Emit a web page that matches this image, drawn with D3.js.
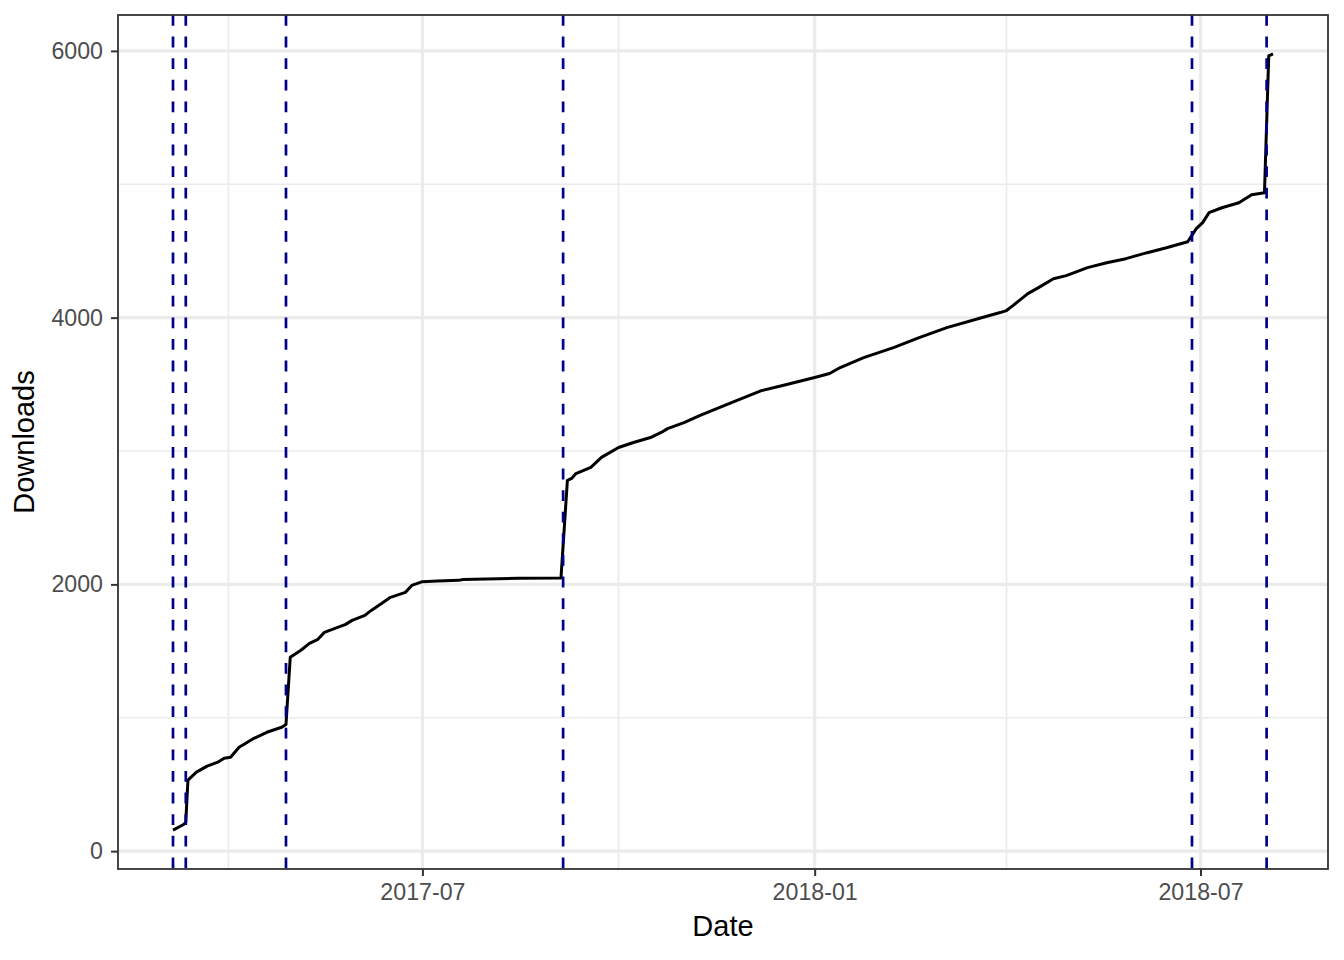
<!DOCTYPE html>
<html>
<head>
<meta charset="utf-8">
<script src="https://cdn.jsdelivr.net/npm/d3@7"></script>
<style>
  html, body { margin: 0; padding: 0; background: #fff; }
  svg { display: block; font-family: "Liberation Sans", Arial, Helvetica, sans-serif; }
</style>
</head>
<body>
<svg id="chart" width="1344" height="960"></svg>
<script>
// ---- data ----
const dates = [
  "2017-03-06","2017-03-11","2017-03-12","2017-03-13","2017-03-17","2017-03-22","2017-03-27","2017-03-30",
  "2017-04-02","2017-04-06","2017-04-13","2017-04-19","2017-04-26","2017-04-28","2017-04-30","2017-05-05",
  "2017-05-09","2017-05-13","2017-05-16","2017-05-21","2017-05-26","2017-05-29","2017-06-04","2017-06-07",
  "2017-06-12","2017-06-16","2017-06-23","2017-06-26","2017-07-01","2017-07-08","2017-07-18","2017-07-20",
  "2017-08-15","2017-09-04","2017-09-07","2017-09-09","2017-09-11","2017-09-18","2017-09-23","2017-10-01",
  "2017-10-08","2017-10-16","2017-10-21","2017-10-24","2017-11-01","2017-11-08","2017-11-23","2017-12-07",
  "2017-12-17","2018-01-01","2018-01-08","2018-01-13","2018-01-24","2018-02-07","2018-02-19","2018-03-04",
  "2018-03-19","2018-03-29","2018-04-01","2018-04-04","2018-04-11","2018-04-16","2018-04-23","2018-04-29",
  "2018-05-09","2018-05-18","2018-05-27","2018-06-06","2018-06-15","2018-06-25","2018-06-29","2018-07-02",
  "2018-07-05","2018-07-11","2018-07-19","2018-07-25","2018-07-31","2018-08-02","2018-08-04"
];
const downloads = [
  157, 200, 217, 532, 592, 637, 667, 697,
  704, 779, 846, 891, 929, 950, 1453, 1506,
  1558, 1588, 1640, 1670, 1700, 1730, 1768, 1805,
  1858, 1903, 1940, 1992, 2020, 2025, 2030, 2037,
  2045, 2048, 2779, 2794, 2831, 2877, 2952, 3026,
  3064, 3101, 3139, 3168, 3214, 3266, 3363, 3453,
  3491, 3551, 3581, 3626, 3700, 3775, 3850, 3925,
  3993, 4038, 4053, 4090, 4180, 4225, 4292, 4315,
  4375, 4412, 4442, 4487, 4524, 4569, 4667, 4712,
  4787, 4824, 4861, 4921, 4936, 5963, 5978
];
const eventDates = ["2017-03-06","2017-03-12","2017-04-28","2017-09-05","2018-06-27","2018-08-01"];
const yMajorTicks = [0, 2000, 4000, 6000];
const yMinorTicks = [1000, 3000, 5000];
const xMajorTicks = ["2017-07-01","2018-01-01","2018-07-01"];
const xMinorTicks = ["2017-04-01","2017-10-01","2018-04-01"];
const xTitle = "Date";
const yTitle = "Downloads";

// ---- layout ----
const W = 1344, H = 960;
const panel = { left: 118, right: 1328, top: 15, bottom: 869 };

const parse = d3.utcParse("%Y-%m-%d");
const fmt = d3.utcFormat("%Y-%m");
const data = dates.map((d, i) => ({ date: parse(d), value: downloads[i] }));

const xExt = d3.extent(data, d => d.date);
const xPad = (xExt[1] - xExt[0]) * 0.05;
const x = d3.scaleUtc()
  .domain([new Date(+xExt[0] - xPad), new Date(+xExt[1] + xPad)])
  .range([panel.left, panel.right]);

const yExt = d3.extent(data, d => d.value);
const yPad = (yExt[1] - yExt[0]) * 0.05;
const y = d3.scaleLinear()
  .domain([yExt[0] - yPad, yExt[1] + yPad])
  .range([panel.bottom, panel.top]);

const svg = d3.select("#chart");
svg.append("rect").attr("width", W).attr("height", H).attr("fill", "#fff");

const grid = svg.append("g");
// minor grid
grid.selectAll(".ymin").data(yMinorTicks).join("line")
  .attr("x1", panel.left).attr("x2", panel.right)
  .attr("y1", d => y(d)).attr("y2", d => y(d))
  .attr("stroke", "#EBEBEB").attr("stroke-width", 1.7);
grid.selectAll(".xmin").data(xMinorTicks.map(parse)).join("line")
  .attr("y1", panel.top).attr("y2", panel.bottom)
  .attr("x1", d => x(d)).attr("x2", d => x(d))
  .attr("stroke", "#EBEBEB").attr("stroke-width", 1.7);
// major grid
grid.selectAll(".ymaj").data(yMajorTicks).join("line")
  .attr("x1", panel.left).attr("x2", panel.right)
  .attr("y1", d => y(d)).attr("y2", d => y(d))
  .attr("stroke", "#EBEBEB").attr("stroke-width", 3.2);
grid.selectAll(".xmaj").data(xMajorTicks.map(parse)).join("line")
  .attr("y1", panel.top).attr("y2", panel.bottom)
  .attr("x1", d => x(d)).attr("x2", d => x(d))
  .attr("stroke", "#EBEBEB").attr("stroke-width", 3.2);

// data line
const line = d3.line().x(d => x(d.date)).y(d => y(d.value));
svg.append("path").datum(data)
  .attr("d", line)
  .attr("fill", "none")
  .attr("stroke", "#000")
  .attr("stroke-width", 3)
  .attr("stroke-linejoin", "round")
  .attr("stroke-linecap", "butt");

// event lines
svg.append("g").selectAll("line").data(eventDates.map(parse)).join("line")
  .attr("x1", d => x(d)).attr("x2", d => x(d))
  .attr("y1", panel.top).attr("y2", panel.bottom)
  .attr("stroke", "#00008B")
  .attr("stroke-width", 2.7)
  .attr("stroke-dasharray", "10.8,10.8");

// panel border
svg.append("rect")
  .attr("x", panel.left).attr("y", panel.top)
  .attr("width", panel.right - panel.left).attr("height", panel.bottom - panel.top)
  .attr("fill", "none").attr("stroke", "#333333").attr("stroke-width", 1.8);

// axes
const xAxis = d3.axisBottom(x).tickValues(xMajorTicks.map(parse)).tickFormat(fmt)
  .tickSizeInner(7).tickSizeOuter(0).tickPadding(8);
const gx = svg.append("g").attr("transform", `translate(0,${panel.bottom})`).call(xAxis);
gx.select(".domain").remove();
gx.selectAll(".tick line").attr("stroke", "#333333").attr("stroke-width", 2);
gx.selectAll(".tick text").attr("fill", "#4D4D4D").attr("font-size", 23.2)
  .attr("font-family", "'Liberation Sans', Arial, sans-serif");

const yAxis = d3.axisLeft(y).tickValues(yMajorTicks).tickFormat(d3.format("d"))
  .tickSizeInner(7).tickSizeOuter(0).tickPadding(8);
const gy = svg.append("g").attr("transform", `translate(${panel.left},0)`).call(yAxis);
gy.select(".domain").remove();
gy.selectAll(".tick line").attr("stroke", "#333333").attr("stroke-width", 2);
gy.selectAll(".tick text").attr("fill", "#4D4D4D").attr("font-size", 23.2)
  .attr("font-family", "'Liberation Sans', Arial, sans-serif");

// titles
svg.append("text")
  .attr("x", (panel.left + panel.right) / 2).attr("y", 936)
  .attr("text-anchor", "middle").attr("font-size", 29).attr("fill", "#000")
  .text(xTitle);
svg.append("text")
  .attr("transform", `translate(34,${(panel.top + panel.bottom) / 2}) rotate(-90)`)
  .attr("text-anchor", "middle").attr("font-size", 29).attr("fill", "#000")
  .text(yTitle);
</script>
</body>
</html>
